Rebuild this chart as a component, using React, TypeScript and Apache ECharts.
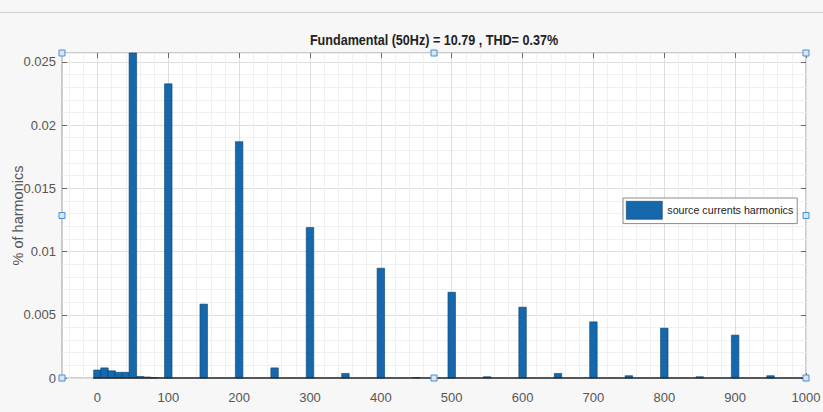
import React, { useEffect, useRef } from "react";
import * as echarts from "echarts";

const titleText = "Fundamental (50Hz) = 10.79 , THD= 0.37%";
const yAxisName = "% of harmonics";
const seriesName = "source currents harmonics";

const harmonicFreqs = [0, 10, 20, 30, 40, 50, 60, 70, 80, 100, 150, 200, 250, 300, 350, 400, 450, 500, 550, 600, 650, 700, 750, 800, 850, 900, 950];
const harmonicValues = [0.00063, 0.0008, 0.00057, 0.00045, 0.00045, 0.026, 0.00012, 0.00008, 0.00004, 0.02326, 0.00584, 0.01869, 0.0008, 0.0119, 0.00036, 0.00868, 0.00003, 0.00678, 0.0001, 0.0056, 0.00036, 0.00444, 0.00018, 0.00394, 0.0001, 0.00339, 0.00018];

const xTickValues = [0, 100, 200, 300, 400, 500, 600, 700, 800, 900, 1000];
const yTickValues = [0, 0.005, 0.01, 0.015, 0.02, 0.025];

const xMin = -50;
const xMax = 1000;
const yMin = 0;
const yMax = 0.0257;

const FONT = "'Liberation Sans', Arial, sans-serif";

const MAJOR = "#dedede";
const MINOR = "#f0f0f0";
const NONE = "rgba(0,0,0,0)";
const BAR = "#1668ad";
const BAR_EDGE = "#0f3f68";
const TICK = "#6a6a6a";

export default function App() {
  const ref = useRef<HTMLDivElement>(null);
  useEffect(() => {
    if (!ref.current) return;
    const chart = echarts.init(ref.current, null, { renderer: "svg" });
    const left = 62, right = 806, top = 53, bottom = 378;
    const midX = (left + right) / 2;
    const midY = (top + bottom) / 2;
    const handles = [
      [left, top], [midX, top], [right, top],
      [left, midY], [right, midY],
      [left, bottom], [midX, bottom], [right, bottom],
    ].map(([x, y]) => ({
      type: "rect",
      shape: { x: x - 3, y: y - 3, width: 6, height: 6 },
      style: { fill: "#d6e6f5", stroke: "#4a8fd0", lineWidth: 1 },
      z: 100,
    }));
    const barW = 7.5;
    const tickAxisX = (position: string) => ({
      type: "value", min: xMin, max: xMax, position,
      axisLine: { show: false, onZero: false }, axisLabel: { show: false }, splitLine: { show: false },
      axisTick: { show: true, inside: true, length: 5, customValues: xTickValues, lineStyle: { color: TICK, width: 1 } },
    });
    const tickAxisY = (position: string) => ({
      type: "value", min: yMin, max: yMax, position,
      axisLine: { show: false, onZero: false }, axisLabel: { show: false }, splitLine: { show: false },
      axisTick: { show: true, inside: true, length: 5, customValues: yTickValues, lineStyle: { color: TICK, width: 1 } },
    });
    chart.setOption({
      animation: false,
      backgroundColor: "#f7f7f7",
      grid: {
        left, right: 823 - right, top, bottom: 412 - bottom,
        containLabel: false,
        outerBoundsMode: "none",
        show: true, backgroundColor: "#ffffff", borderColor: "#9a9a9a", borderWidth: 1,
      },
      legend: {
        data: [seriesName],
        left: 623, top: 198,
        padding: [3, 4, 4, 3],
        borderColor: "#8c8c8c", borderWidth: 1, backgroundColor: "#ffffff",
        itemWidth: 36, itemHeight: 18, icon: "rect",
        itemStyle: { color: BAR, borderColor: BAR_EDGE, borderWidth: 0.6 },
        textStyle: { fontSize: 10.7, color: "#222", fontFamily: FONT },
      },
      xAxis: [
        {
          type: "value", min: xMin, max: xMax, interval: 10, position: "bottom",
          axisLine: { show: false, onZero: false }, axisTick: { show: false },
          axisLabel: {
            color: "#555", fontSize: 13, fontFamily: FONT, margin: 13,
            formatter: (v: number) => (Math.abs(v % 100) < 1e-6 ? String(Math.round(v)) : ""),
          },
          splitLine: {
            show: true,
            lineStyle: { color: [NONE, MINOR, NONE, MINOR, NONE, MAJOR, NONE, MINOR, NONE, MINOR], width: 1 },
          },
        },
        tickAxisX("top"),
        tickAxisX("bottom"),
      ],
      yAxis: [
        {
          type: "value", min: yMin, max: yMax, interval: 0.001, position: "left",
          axisLine: { show: false, onZero: false }, axisTick: { show: false },
          axisLabel: {
            color: "#555", fontSize: 13, fontFamily: FONT, margin: 6,
            formatter: (v: number) => {
              const r = v / 0.005;
              if (Math.abs(r - Math.round(r)) > 1e-6) return "";
              return String(Math.round(v * 1000) / 1000);
            },
          },
          splitLine: {
            show: true,
            lineStyle: { color: [MAJOR, MINOR, MINOR, MINOR, MINOR], width: 1 },
          },
        },
        tickAxisY("left"),
        tickAxisY("right"),
      ],
      series: [
        {
          name: seriesName,
          type: "custom",
          xAxisIndex: 0,
          yAxisIndex: 0,
          itemStyle: { color: BAR },
          encode: { x: 0, y: 1 },
          renderItem: (params: any, api: any) => {
            const x = api.value(0);
            const y = Math.min(api.value(1), yMax);
            const p0 = api.coord([x, 0]);
            const p1 = api.coord([x, y]);
            return {
              type: "rect",
              shape: { x: p0[0] - barW / 2, y: p1[1], width: barW, height: p0[1] - p1[1] },
              style: { fill: BAR, stroke: BAR_EDGE, lineWidth: 0.6 },
            };
          },
          data: harmonicFreqs.map((f, i) => [f, harmonicValues[i]]),
          markLine: {
            silent: true, symbol: "none", label: { show: false },
            lineStyle: { color: "#2a2a2a", width: 1.5, type: "solid" },
            data: [[{ coord: [-6, 0] }, { coord: [1000, 0] }]],
          },
        },
      ],
      graphic: [
        {
          type: "line",
          shape: { x1: 0, y1: 12.5, x2: 823, y2: 12.5 },
          style: { stroke: "#cfcfcf", lineWidth: 1 },
        },
        {
          type: "text",
          x: midX, y: 40,
          scaleX: 0.9,
          style: {
            text: titleText, align: "center", verticalAlign: "middle",
            font: `bold 14px ${FONT}`, fill: "#222",
          },
        },
        {
          type: "text",
          x: 18, y: midY,
          rotation: Math.PI / 2,
          style: {
            text: yAxisName, align: "center", verticalAlign: "middle",
            font: `14.5px ${FONT}`, fill: "#555",
          },
        },
        ...handles,
      ],
    });
    return () => chart.dispose();
  }, []);
  return <div ref={ref} style={{ position: "absolute", left: 0, top: 0, width: 823, height: 412 }} />;
}
